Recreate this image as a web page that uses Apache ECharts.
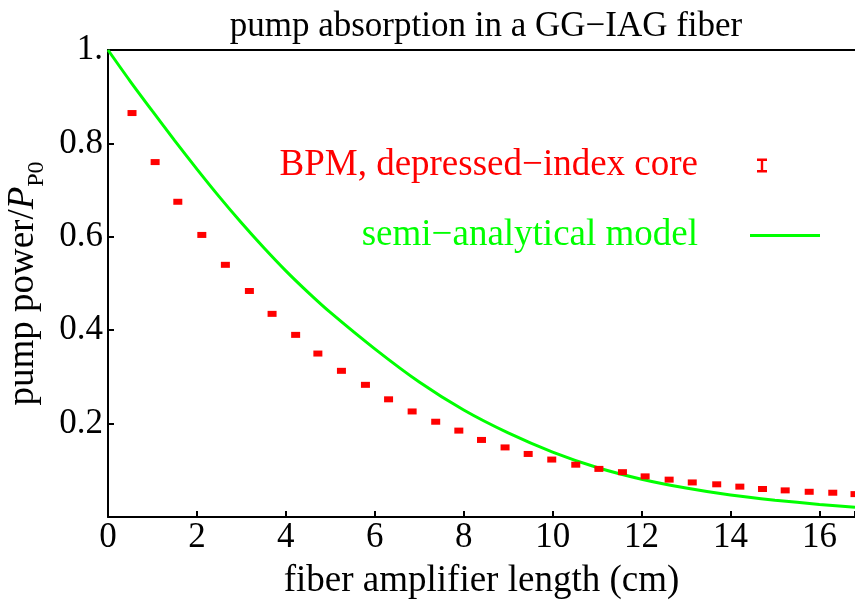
<!DOCTYPE html>
<html>
<head>
<meta charset="utf-8">
<script src="https://cdn.jsdelivr.net/npm/echarts@6/dist/echarts.min.js"></script>
<style>html,body{margin:0;padding:0;background:#fff}#c{width:855px;height:604px}</style>
</head>
<body>
<div id="c"></div>
<script>
const titleText = 'pump absorption in a GG\u2212IAG fiber';
const xName = 'fiber amplifier length (cm)';
const bpmName = 'BPM, depressed\u2212index core';
const modelName = 'semi\u2212analytical model';

const xTickLabels = ['0','2','4','6','8','10','12','14','16'];
const yTickLabels = ['0.2','0.4','0.6','0.8','1.'];

const bpmX = [0.54,1.06,1.57,2.11,2.64,3.18,3.69,4.22,4.72,5.25,5.79,6.31,6.84,7.37,7.89,8.40,8.93,9.45,9.98,10.52,11.04,11.57,12.08,12.62,13.14,13.69,14.21,14.72,15.23,15.77,16.30,16.80];
const bpmY = [0.865,0.760,0.675,0.604,0.540,0.484,0.435,0.390,0.350,0.313,0.283,0.252,0.226,0.204,0.185,0.165,0.149,0.135,0.123,0.112,0.103,0.096,0.087,0.080,0.074,0.070,0.065,0.060,0.057,0.054,0.052,0.049];

const modelX = [0,0.5,1,1.5,2,2.5,3,3.5,4,4.5,5,6,7,8,9,10,11,12,13,14,15,16,16.8];
const modelY = [1.0,0.933,0.869,0.806,0.745,0.686,0.630,0.577,0.527,0.481,0.438,0.360,0.289,0.229,0.180,0.139,0.106,0.081,0.062,0.047,0.036,0.027,0.021];

const FONT = 'Liberation Serif';
const FS = 37;
const LFS = 35;
const TFS = 35;
const RED = '#ff0000';
const GREEN = '#00ff00';

const chart = echarts.init(document.getElementById('c'), null, {renderer: 'canvas'});
chart.setOption({
  animation: false,
  backgroundColor: '#ffffff',
  textStyle: {fontFamily: FONT},
  title: {
    text: titleText, left: 481, textAlign: 'center', top: 4,
    textStyle: {fontFamily: FONT, fontSize: TFS, fontWeight: 'normal', color: '#000'}
  },
  grid: {left: 108, top: 50, right: 0, bottom: 87, outerBoundsMode: 'none', containLabel: false},
  legend: [
    {
      data: [{name: bpmName, icon: 'path://M0,0H10V2.5H6.2V11.5H10V14H0V11.5H3.8V2.5H0Z', textStyle: {color: RED}}],
      right: 88, top: 147, orient: 'vertical', align: 'right', padding: 0,
      itemWidth: 10, itemHeight: 14, selectedMode: false,
      textStyle: {fontFamily: FONT, fontSize: FS, color: RED, padding: [0, 54, 0, 0]}
    },
    {
      data: [{name: modelName, icon: 'rect', textStyle: {color: GREEN}}],
      right: 35, top: 217, orient: 'vertical', align: 'right', padding: 0,
      itemWidth: 70, itemHeight: 3, selectedMode: false,
      textStyle: {fontFamily: FONT, fontSize: FS, color: GREEN, padding: [0, 47, 0, 0]}
    }
  ],
  xAxis: [
    {
      type: 'value', min: 0, max: 16.8, interval: 2, position: 'bottom',
      name: xName, nameLocation: 'middle', nameGap: 46,
      nameTextStyle: {fontFamily: FONT, fontSize: FS, color: '#000'},
      axisLine: {show: true, onZero: false, lineStyle: {color: '#000', width: 2}},
      axisTick: {show: true, inside: true, length: 6, lineStyle: {color: '#000', width: 2}},
      axisLabel: {
        fontFamily: FONT, fontSize: LFS, color: '#000', margin: 3,
        formatter: v => { const s = String(Math.round(v)); return (Math.abs(v - Math.round(v)) < 1e-6 && xTickLabels.includes(s)) ? s : ''; }
      },
      splitLine: {show: false}
    },
    {
      type: 'value', min: 0, max: 16.8, position: 'top',
      axisLine: {show: true, onZero: false, lineStyle: {color: '#000', width: 2}},
      axisTick: {show: false}, axisLabel: {show: false}, splitLine: {show: false}
    }
  ],
  yAxis: {
    type: 'value', min: 0, max: 1, interval: 0.2,
    name: '{a|pump power/}{i|P}{s|P0}', nameLocation: 'middle', nameGap: 52, nameRotate: 90,
    nameTextStyle: {
      fontFamily: FONT, fontSize: FS, color: '#000',
      rich: {
        a: {fontFamily: FONT, fontSize: FS, color: '#000', lineHeight: 42, verticalAlign: 'top'},
        i: {fontFamily: FONT, fontSize: FS, fontStyle: 'italic', color: '#000', lineHeight: 42, verticalAlign: 'top'},
        s: {fontFamily: FONT, fontSize: 24, color: '#000', lineHeight: 24, padding: [20, 0, 0, 0], verticalAlign: 'top'}
      }
    },
    axisLine: {show: true, lineStyle: {color: '#000', width: 2}},
    axisTick: {show: true, inside: true, length: 6, lineStyle: {color: '#000', width: 2}},
    axisLabel: {
      fontFamily: FONT, fontSize: LFS, color: '#000', margin: 5,
      formatter: v => { const i = Math.round(v / 0.2) - 1; return (i >= 0 && i < yTickLabels.length) ? yTickLabels[i] : ''; }
    },
    splitLine: {show: false}
  },
  series: [
    {
      name: modelName, type: 'line', xAxisIndex: 0,
      data: modelX.map((x, i) => [x, modelY[i]]),
      smooth: 0.25, showSymbol: false, symbol: 'none',
      lineStyle: {color: GREEN, width: 3}, itemStyle: {color: GREEN}, z: 2
    },
    {
      name: bpmName, type: 'scatter', xAxisIndex: 0,
      data: bpmX.map((x, i) => [x, bpmY[i]]),
      symbol: 'rect', symbolSize: [9, 6],
      itemStyle: {color: RED, opacity: 1}, z: 3
    }
  ]
});
</script>
</body>
</html>
